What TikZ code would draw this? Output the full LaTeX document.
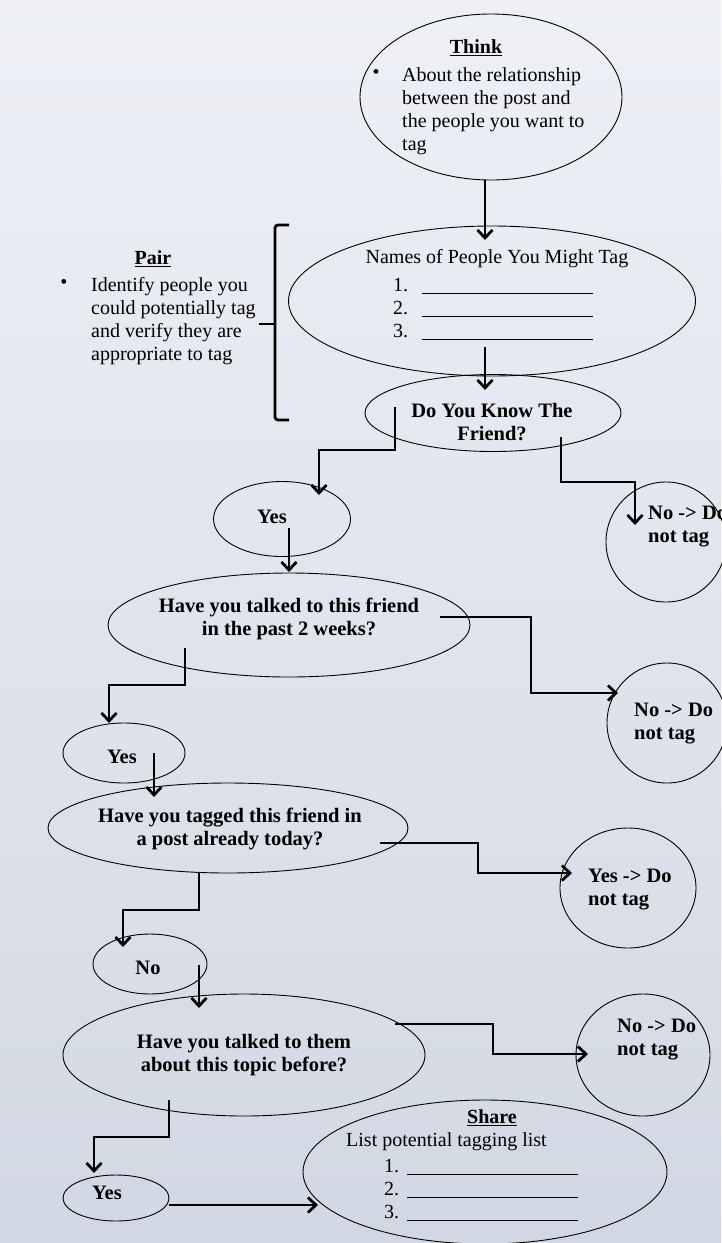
\documentclass[tikz,border=0pt]{standalone}
\usepackage{fontspec}
\setmainfont{Liberation Serif}
\usepackage{tikz}
\usetikzlibrary{shapes.geometric,arrows.meta}

\definecolor{bgtop}{RGB}{238,240,246}
\definecolor{bgbot}{RGB}{210,216,227}

\newcommand{\txtfont}{\fontsize{20}{23}\selectfont}
\newcommand{\boldfont}{\fontsize{20.5}{23}\selectfont\bfseries}
\newcommand{\blank}{\rule[-3pt]{171pt}{0.7pt}}

\begin{document}
\begin{tikzpicture}[x=1pt,y=-1pt,
   bubble/.style={draw,ellipse,line width=0.9pt,inner sep=0pt},
   txt/.style={inner sep=0pt,font=\txtfont,align=left},
   btxt/.style={inner sep=0pt,font=\boldfont,align=center},
   conn/.style={line width=2.8pt,-{Straight Barb[length=8pt,width=15pt]}},
   brace/.style={line width=2.8pt,rounded corners=3pt}]
   \useasboundingbox (0,0) rectangle (721,1243);
   \shade[top color=bgtop,bottom color=bgbot] (0,0) rectangle (721,1243);

   \node[bubble,minimum width=262pt,minimum height=166pt] (think) at (491,97) {};
   \node[txt,font=\txtfont\bfseries] (think-h) at (476,48) {\underline{Think}};
   \node[txt] (think-dot) at (376,74) {\textbullet};
   \node[txt,anchor=west] (think-b) at (402,111) {About the relationship\\between the post and\\the people you want to\\tag};

   \node[txt,font=\txtfont\bfseries] (pair-h) at (153,259) {\underline{Pair}};
   \node[txt] (pair-dot) at (64,284) {\textbullet};
   \node[txt,anchor=west] (pair-b) at (91,321) {Identify people you\\could potentially tag\\and verify they are\\appropriate to tag};
   \draw[brace] (289,225) -- (275,225) -- (275,420) -- (289,420);
   \draw[brace] (275,324) -- (259,324);

   \node[bubble,minimum width=407pt,minimum height=150pt] (names) at (492,301) {};
   \node[txt] (names-h) at (497,259) {Names of People You Might Tag};
   \node[txt,anchor=west] (names-l) at (393,309) {\makebox[29pt][l]{1.}\blank\\\makebox[29pt][l]{2.}\blank\\\makebox[29pt][l]{3.}\blank};

   \node[bubble,minimum width=256pt,minimum height=77pt] (know) at (493,413) {};
   \node[btxt] (know-t) at (492,422) {Do You Know The\\Friend?};

   \node[bubble,minimum width=137pt,minimum height=75pt] (yes1) at (282,519) {};
   \node[btxt] (yes1-t) at (272,517) {Yes};

   \node[bubble,minimum width=120pt,minimum height=120pt] (no1) at (666,542) {};
   \node[btxt,align=left,anchor=west] (no1-t) at (648,527) {No -> Do\\not tag};

   \node[bubble,minimum width=362pt,minimum height=104pt] (talk) at (289,625) {};
   \node[btxt] (talk-t) at (289,619) {Have you talked to this friend\\in the past 2 weeks?};

   \node[bubble,minimum width=120pt,minimum height=120pt] (no2) at (667,723) {};
   \node[btxt,align=left,anchor=west] (no2-t) at (634,724) {No -> Do\\not tag};

   \node[bubble,minimum width=122pt,minimum height=60pt] (yes2) at (124,753) {};
   \node[btxt] (yes2-t) at (122,757) {Yes};

   \node[bubble,minimum width=360pt,minimum height=90pt] (tag) at (228,828) {};
   \node[btxt] (tag-t) at (230,829) {Have you tagged this friend in\\a post already today?};

   \node[bubble,minimum width=136pt,minimum height=120pt] (yesno) at (628,888) {};
   \node[btxt,align=left,anchor=west] (yesno-t) at (588,890) {Yes -> Do\\not tag};

   \node[bubble,minimum width=114pt,minimum height=60pt] (no) at (150,964) {};
   \node[btxt] (no-t) at (148,968) {No};

   \node[bubble,minimum width=362pt,minimum height=122pt] (topic) at (244,1055) {};
   \node[btxt] (topic-t) at (244,1055) {Have you talked to them\\about this topic before?};

   \node[bubble,minimum width=134pt,minimum height=122pt] (no3) at (643,1055) {};
   \node[btxt,align=left,anchor=west] (no3-t) at (617,1040) {No -> Do\\not tag};

   \node[bubble,minimum width=106pt,minimum height=46pt] (yes3) at (116,1198) {};
   \node[btxt] (yes3-t) at (107,1193) {Yes};

   \node[bubble,minimum width=364pt,minimum height=144pt] (share) at (485,1172) {};
   \node[txt,font=\txtfont\bfseries] (share-h) at (492,1118) {\underline{Share}};
   \node[txt,anchor=west] (share-b) at (346,1142) {List potential tagging list};
   \node[txt,anchor=west] (share-l) at (384,1190) {\makebox[23pt][l]{1.}\blank\\\makebox[23pt][l]{2.}\blank\\\makebox[23pt][l]{3.}\blank};

   \draw[conn] ([shift={(-6,83)}]think.center) -- ([shift={(-7,-61)}]names.center);
   \draw[conn] ([shift={(-7,46)}]names.center) -- ([shift={(-8,-23)}]know.center);
   \draw[conn] ([shift={(-98,-6)}]know.center) -- ++(0,43) -| ([shift={(37,-24)}]yes1.center);
   \draw[conn] ([shift={(68,24)}]know.center) -- ++(0,45) -| ([shift={(-31,-17)}]no1.center);
   \draw[conn] ([shift={(7,9)}]yes1.center) -- ([shift={(0,-53)}]talk.center);
   \draw[conn] ([shift={(151,-8)}]talk.center) -- ++(91,0) |- ([shift={(-49,-30)}]no2.center);
   \draw[conn] ([shift={(-104,23)}]talk.center) -- ++(0,37) -| ([shift={(-15,-30)}]yes2.center);
   \draw[conn] ([shift={(30,0)}]yes2.center) -- ([shift={(-74,-31)}]tag.center);
   \draw[conn] ([shift={(152,15)}]tag.center) -- ++(98,0) |- ([shift={(-56,-15)}]yesno.center);
   \draw[conn] ([shift={(-29,45)}]tag.center) -- ++(0,37) -| ([shift={(-27,-17)}]no.center);
   \draw[conn] ([shift={(49,1)}]no.center) -- ([shift={(-45,-47)}]topic.center);
   \draw[conn] ([shift={(151,-31)}]topic.center) -- ++(98,0) |- ([shift={(-55,-1)}]no3.center);
   \draw[conn] ([shift={(-75,45)}]topic.center) -- ++(0,37) -| ([shift={(-22,-25)}]yes3.center);
   \draw[conn] ([shift={(53,7)}]yes3.center) -- ([shift={(-167,33)}]share.center);
\end{tikzpicture}
\end{document}
